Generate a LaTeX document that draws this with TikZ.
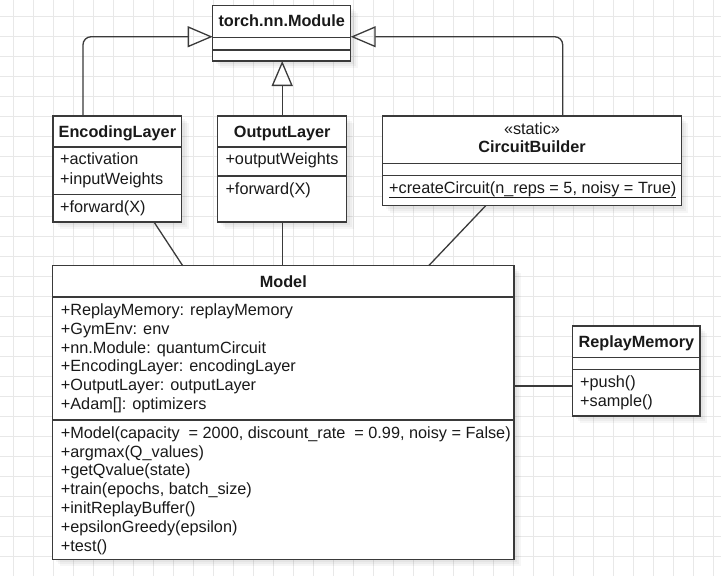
\documentclass[tikz,border=0pt]{standalone}
\usepackage{fontspec}
\setmainfont{Liberation Sans}
\usetikzlibrary{arrows.meta,calc}

\definecolor{umlline}{RGB}{58,58,58}
\definecolor{gridc}{RGB}{232,232,232}
\definecolor{textc}{RGB}{25,25,25}

\tikzset{
  box/.style={draw=umlline, line width=1.3pt, fill=white, rectangle, inner sep=0pt, outer sep=0pt, anchor=north west},
  txt/.style={anchor=base west, inner sep=0pt, font=\fontsize{16.25}{19}\selectfont, text=textc},
  ttl/.style={anchor=base, inner sep=0pt, font=\fontsize{16.25}{19}\selectfont\bfseries, text=textc},
  stereo/.style={anchor=base, inner sep=0pt, font=\fontsize{16.25}{19}\selectfont, text=textc},
  link/.style={draw=umlline, line width=1.3pt},
  inherit/.style={link, -{Triangle[open, length=25pt, width=21pt]}},
  gridline/.style={draw=gridc, line width=0.9pt},
}

% class box with a soft drop shadow: name, x1, y1, x2, y2
\newcommand\umlclass[5]{%
  \foreach \o in {3,5,7}
    \fill[black, opacity=0.035] (#2+\o,#3+\o) rectangle (#4+\o,#5+\o);
  \node[box, minimum width=#4-#2, minimum height=#5-#3] (#1) at (#2,#3) {};
}
% horizontal compartment separator inside a class box
\newcommand\umlsep[2]{\draw[link] (#1.west |- 0,#2) -- (#1.east |- 0,#2);}

\begin{document}
\begin{tikzpicture}[x=1pt, y=-1pt]
  \useasboundingbox (0,0) rectangle (721,576);
  \fill[white] (0,0) rectangle (721,576);

  % background grid
  \foreach \x in {13,33,...,713} \draw[gridline] (\x,0) -- (\x,576);
  \foreach \y in {16,36,...,576} \draw[gridline] (0,\y) -- (721,\y);

  % classes
  \umlclass{torch}{212.7}{5.7}{350.7}{61}
  \umlsep{torch}{37.3}
  \umlsep{torch}{50}
  \node[ttl] (torchT) at (281.7,26.7) {torch.nn.Module};

  \umlclass{enc}{53}{116}{181.7}{222}
  \umlsep{enc}{147}
  \umlsep{enc}{194.5}
  \node[ttl] (encT) at (117.4,137.2) {EncodingLayer};
  \node[txt] (encA1) at (60,164.8) {+activation};
  \node[txt] (encA2) at (60,184.2) {+inputWeights};
  \node[txt] (encM1) at (60,212.8) {+forward(X)};

  \umlclass{out}{217.7}{116}{346.7}{222}
  \umlsep{out}{147}
  \umlsep{out}{176}
  \node[ttl] (outT) at (282.2,137.2) {OutputLayer};
  \node[txt] (outA1) at (225.3,164.8) {+outputWeights};
  \node[txt] (outM1) at (225.3,194.2) {+forward(X)};

  \umlclass{cb}{382.7}{116}{681.3}{205.7}
  \umlsep{cb}{163.3}
  \umlsep{cb}{175.7}
  \node[stereo] (cbS) at (532,134.8) {«static»};
  \node[ttl] (cbT) at (532,152.5) {CircuitBuilder};
  \node[txt] (cbM1) at (389,193.8) {+createCircuit(n\_reps = 5, noisy = True)};
  \draw[textc, line width=0.9pt] ($(cbM1.base west)+(0,3.6)$) -- ($(cbM1.base east)+(0,3.6)$);

  \umlclass{model}{52.7}{265.7}{514}{559.3}
  \umlsep{model}{297}
  \umlsep{model}{420}
  \node[ttl] (modelT) at (283.3,287.3) {Model};
  \node[txt] (mA1) at (60.7,315.5) {+ReplayMemory: replayMemory};
  \node[txt] (mA2) at (60.7,334.2) {+GymEnv: env};
  \node[txt] (mA3) at (60.7,353.0) {+nn.Module: quantumCircuit};
  \node[txt] (mA4) at (60.7,371.7) {+EncodingLayer: encodingLayer};
  \node[txt] (mA5) at (60.7,390.5) {+OutputLayer: outputLayer};
  \node[txt] (mA6) at (60.7,409.2) {+Adam[]: optimizers};
  \node[txt] (mM1) at (60.7,438.2) {+Model(capacity~~= 2000, discount\_rate~~= 0.99, noisy = False)};
  \node[txt] (mM2) at (60.7,457.0) {+argmax(Q\_values)};
  \node[txt] (mM3) at (60.7,475.8) {+getQvalue(state)};
  \node[txt] (mM4) at (60.7,494.6) {+train(epochs, batch\_size)};
  \node[txt] (mM5) at (60.7,513.4) {+initReplayBuffer()};
  \node[txt] (mM6) at (60.7,532.2) {+epsilonGreedy(epsilon)};
  \node[txt] (mM7) at (60.7,551.0) {+test()};

  \umlclass{rm}{572.7}{326}{700}{416}
  \umlsep{rm}{357.3}
  \umlsep{rm}{369.3}
  \node[ttl] (rmT) at (636.4,347.2) {ReplayMemory};
  \node[txt] (rmM1) at (580,387.8) {+push()};
  \node[txt] (rmM2) at (580,406.5) {+sample()};

  % generalizations towards torch.nn.Module
  \draw[inherit, rounded corners=8pt] ($(enc.north west)+(30,0)$) |- ($(torch.west)+(0,3.4)$);
  \draw[inherit, rounded corners=8pt] ($(cb.north west)+(180,0)$) |- ($(torch.east)+(0,3.4)$);
  \draw[inherit] (out.north) -- (out.north |- torch.south);

  % associations with Model
  \draw[link] ($(enc.south west)+(101,0)$) -- ($(model.north west)+(130,0)$);
  \draw[link] (out.south) -- (out.south |- model.north);
  \draw[link] ($(cb.south west)+(103,0)$) -- ($(model.north west)+(376,0)$);
  \coordinate (rmL) at ($(rm.west)+(0,15)$);
  \draw[link] (model.east |- rmL) -- (rmL);
\end{tikzpicture}
\end{document}
